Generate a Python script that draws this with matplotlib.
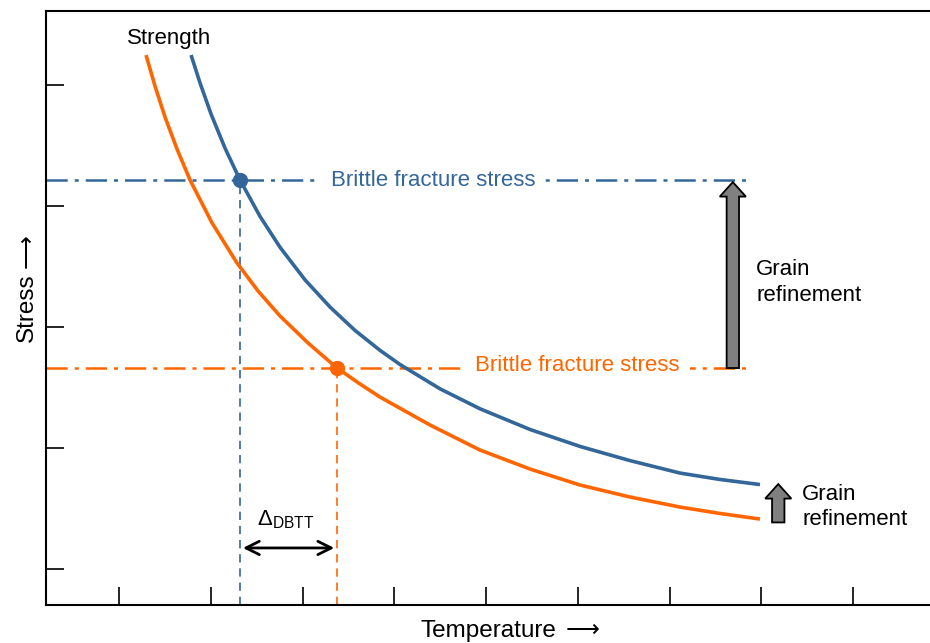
import matplotlib
matplotlib.use("Agg")
import matplotlib.pyplot as plt

plt.rcParams['font.family'] = ['Liberation Sans', 'DejaVu Sans']
plt.rcParams['mathtext.fontset'] = 'custom'
plt.rcParams['mathtext.rm'] = 'Liberation Sans'
plt.rcParams['mathtext.it'] = 'Liberation Sans:italic'

blue = '#336699'
orange = '#FF6600'

# strength curves (temperature, stress)
coarse_t = [1.294, 1.392, 1.501, 1.632, 1.774, 2.014, 2.286, 2.515, 2.755, 3.060, 3.376,
            3.627, 3.845, 4.390, 4.935, 5.480, 6.025, 6.569, 7.114, 7.550, 7.986]
coarse_s = [5.248, 4.992, 4.736, 4.471, 4.215, 3.860, 3.529, 3.298, 3.091, 2.868, 2.661,
            2.529, 2.421, 2.190, 1.983, 1.826, 1.694, 1.595, 1.512, 1.459, 1.413]
fine_t = [1.785, 1.883, 2.003, 2.155, 2.319, 2.537, 2.755, 3.027, 3.300, 3.572, 3.845,
          4.063, 4.499, 4.935, 5.480, 6.025, 6.569, 7.114, 7.550, 7.986]
fine_s = [5.248, 5.017, 4.760, 4.479, 4.215, 3.914, 3.659, 3.390, 3.165, 2.972, 2.807,
          2.690, 2.489, 2.324, 2.153, 2.013, 1.896, 1.793, 1.740, 1.698]

# brittle fracture stress levels and ductile-brittle transition temperatures
fracture_fine = 4.215
fracture_coarse = 2.661
dbtt_fine = 2.32
dbtt_coarse = 3.376

fig = plt.figure(figsize=(9.3, 6.43), dpi=100)
ax = fig.add_axes([46/930, 38/643, 884/930, 594/643])
ax.set_xlim(0.204, 9.839)
ax.set_ylim(0.7025, 5.612)

ax.plot(coarse_t, coarse_s, color=orange, lw=2.6, solid_capstyle='butt', solid_joinstyle='round', zorder=3)
ax.plot(fine_t, fine_s, color=blue, lw=2.6, solid_capstyle='butt', solid_joinstyle='round', zorder=3)

# fracture stress lines
for lvl, col in [(fracture_fine, blue), (fracture_coarse, orange)]:
    ln, = ax.plot([0.204, 7.88], [lvl, lvl], color=col, lw=1.8, zorder=2)
    ln.set_dashes([8.5, 2.8, 1.6, 2.8])

ax.text(4.42, fracture_fine, 'Brittle fracture stress', color=blue, fontsize=16,
        ha='center', va='center', zorder=4,
        bbox=dict(facecolor='white', edgecolor='none', pad=7))
ax.text(5.99, fracture_coarse + 0.02, 'Brittle fracture stress', color=orange, fontsize=16,
        ha='center', va='center', zorder=4,
        bbox=dict(facecolor='white', edgecolor='none', pad=8))

# transition points
ax.plot([dbtt_fine, dbtt_fine], [0.7025, fracture_fine], color=blue, lw=1.2, dashes=(5, 3.5), zorder=2)
ax.plot([dbtt_coarse, dbtt_coarse], [0.7025, fracture_coarse], color=orange, lw=1.2, dashes=(5, 3.5), zorder=2)
ax.plot([dbtt_fine], [fracture_fine], 'o', color=blue, ms=10, zorder=5)
ax.plot([dbtt_coarse], [fracture_coarse], 'o', color=orange, ms=10, zorder=5)

ax.annotate('', xy=(dbtt_fine + 0.03, 1.174), xytext=(dbtt_coarse - 0.03, 1.174),
            arrowprops=dict(arrowstyle='<->', color='black', lw=2, mutation_scale=24,
                            shrinkA=0, shrinkB=0))
ax.text(2.50, 1.36, r'$\Delta_{\mathrm{DBTT}}$', fontsize=16, ha='left', va='baseline')

# grain refinement arrows
ax.arrow(7.69, fracture_coarse, 0, 4.198 - fracture_coarse, width=0.135, head_width=0.285,
         head_length=0.12, length_includes_head=True, fc='#808080', ec='black', lw=1.3, zorder=4)
ax.arrow(8.185, 1.385, 0, 1.702 - 1.385, width=0.135, head_width=0.285,
         head_length=0.12, length_includes_head=True, fc='#808080', ec='black', lw=1.3, zorder=4)
ax.text(7.943, 3.430, 'Grain', fontsize=16, ha='left', va='baseline')
ax.text(7.943, 3.215, 'refinement', fontsize=16, ha='left', va='baseline')
ax.text(8.444, 1.570, 'Grain', fontsize=16, ha='left', va='baseline')
ax.text(8.444, 1.364, 'refinement', fontsize=16, ha='left', va='baseline')

ax.text(1.545, 5.339, 'Strength', fontsize=16, ha='center', va='baseline')

ax.set_xticks(range(1, 10))
ax.set_yticks(range(1, 6))
ax.set_xticklabels([])
ax.set_yticklabels([])
ax.tick_params(direction='in', length=13, width=1.2, color='black')
for s in ['left', 'bottom', 'top']:
    ax.spines[s].set_linewidth(1.5)
ax.spines['right'].set_visible(False)

# axis labels with long arrows
fig.text(420/930, 1 - 637/643, 'Temperature', fontsize=17.5, ha='left', va='baseline')
fig.text(566/930, 1 - 637/643, '⟶', fontsize=17, family='DejaVu Sans', ha='left', va='baseline')
fig.text(33/930, 1 - 342/643, 'Stress', fontsize=17.5, rotation=90, rotation_mode='anchor',
         ha='left', va='baseline')
fig.text(33/930, 1 - 268/643, '⟶', fontsize=17, family='DejaVu Sans', rotation=90,
         rotation_mode='anchor', ha='left', va='baseline')

fig.savefig('out.png', dpi=100)
